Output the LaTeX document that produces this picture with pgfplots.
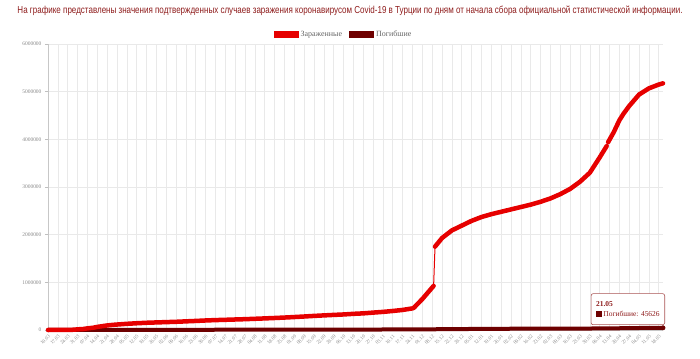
\documentclass[border=0pt]{standalone}
\usepackage{fontspec}
\setmainfont{Liberation Serif}
\newfontfamily\titlefont{Liberation Sans}
\usepackage{pgfplots}
\usepackage{pgfplotstable}
\pgfplotsset{compat=1.18}
\definecolor{cases}{HTML}{E60000}
\definecolor{deaths}{HTML}{6E0000}
\definecolor{titlered}{HTML}{8E1B1B}
\definecolor{gridc}{HTML}{E9E9E9}
\definecolor{tickc}{HTML}{8A8A8A}

\pgfplotstableread{
day cases
0 0
1 1
4 5
8 191
11 670
15 2433
18 5698
21 13531
25 20921
28 34109
32 47029
35 65111
39 82329
42 95591
46 107773
49 114653
56 129491
63 141475
70 151615
77 158762
84 165555
91 172114
98 181298
105 190165
112 199906
119 207897
126 214001
133 220572
140 227019
147 234934
154 243180
161 251805
168 261194
175 271705
182 283270
189 295512
196 306302
203 316560
210 326000
217 339000
224 349000
231 365000
238 380000
245 399000
252 421000
259 453535
260 467730
266 650000
274 925342
}\casesA

\pgfplotstableread{
day cases
275 1748567
280 1930000
287 2090000
294 2190000
301 2290000
308 2370000
315 2430000
322 2480000
329 2530000
336 2580000
343 2630000
350 2690000
357 2760000
364 2850000
371 2960000
378 3110000
385 3300000
392 3620000
397 3860000
}\casesB

\pgfplotstableread{
day cases
398 3940000
402 4150000
406 4400000
409 4540000
413 4700000
420 4940000
427 5070000
434 5150000
437 5175000
}\casesC

\pgfplotstableread{
day deaths
0 0
21 214
28 725
35 1403
42 2376
49 3081
56 3520
63 3894
70 4199
77 4397
84 4585
91 4746
98 4842
105 4974
112 5131
119 5260
126 5382
133 5508
140 5645
147 5784
154 5941
161 6058
168 6209
175 6417
182 6895
189 7249
196 7640
203 8325
210 8609
217 9013
224 9445
231 9874
238 10558
245 11145
252 11820
259 12511
266 13746
273 15103
280 16646
287 18351
294 19878
301 21488
308 22807
315 24161
322 25476
329 26354
336 26997
343 27983
350 28486
357 28900
364 29489
371 29777
378 30316
385 31230
392 32456
399 34184
406 36613
413 39398
420 41883
427 44059
434 45186
437 45626
}\deathsT

\begin{document}
\begin{tikzpicture}
\useasboundingbox (0,0) rectangle (700bp,359bp);
\node[anchor=center, text=titlered, inner sep=0] at (350bp,348bp)
 {\resizebox{665bp}{7.5bp}{\titlefont На графике представлены значения подтвержденных случаев заражения коронавирусом Covid-19 в Турции по дням от начала сбора официальной статистической информации.}};
\begin{axis}[
 at={(48bp,29bp)}, anchor=south west,
 scale only axis, width=615bp, height=286bp,
 xmin=0, xmax=437, ymin=0, ymax=6000000,
 clip=false,
 xtick={0,7,...,434},
 xticklabels={10.03,17.03,24.03,31.03,07.04,14.04,21.04,28.04,05.05,12.05,19.05,26.05,02.06,09.06,16.06,23.06,30.06,07.07,14.07,21.07,28.07,04.08,11.08,18.08,25.08,01.09,08.09,15.09,22.09,29.09,06.10,13.10,20.10,27.10,03.11,10.11,17.11,24.11,01.12,08.12,15.12,22.12,29.12,05.01,12.01,19.01,26.01,02.02,09.02,16.02,23.02,02.03,09.03,16.03,23.03,30.03,06.04,13.04,20.04,27.04,04.05,11.05,18.05},
 ytick={0,1000000,2000000,3000000,4000000,5000000,6000000},
 scaled y ticks=false,
 /pgf/number format/assume math mode=true,
 yticklabel style={/pgf/number format/fixed, /pgf/number format/1000 sep={}, font=\fontsize{5.5}{6}\selectfont, text=tickc},
 xticklabel style={rotate=45, anchor=north east, font=\fontsize{5}{6}\selectfont, text=tickc, inner sep=1bp},
 grid=major, major grid style={draw=gridc, line width=0.6bp},
 axis lines*=left,
 axis line style={draw=black!22, line width=0.6bp},
 tick align=outside, major tick length=3bp,
 x tick style={draw=none}, y tick style={draw=black!25, line width=0.6bp},
 legend style={at={(0.5,1)}, anchor=south, xshift=-12bp, yshift=4bp, draw=none, fill=none, inner sep=0pt,
   font=\fontsize{8}{9}\selectfont, text=black!60, legend columns=2,
   /tikz/every even column/.append style={column sep=5bp}},
 legend cell align=left,
 legend image code/.code={\fill[#1] (0bp,-3.5bp) rectangle (25bp,3.5bp);},
]
\addlegendimage{fill=cases, draw=none}
\addlegendentry{Зараженные}
\addlegendimage{fill=deaths, draw=none}
\addlegendentry{Погибшие}

\addplot[deaths, line width=4bp, line join=round, line cap=round, forget plot] table[x=day,y=deaths] {\deathsT};
\addplot[cases, line width=4.5bp, line join=round, line cap=round, forget plot] table[x=day,y=cases] {\casesA};
\addplot[cases, line width=1bp, forget plot] coordinates {(274,925342) (275,1748567)};
\addplot[cases, line width=4.5bp, line join=round, line cap=round, forget plot] table[x=day,y=cases] {\casesB};
\addplot[cases, line width=4.5bp, line join=round, line cap=round, forget plot] table[x=day,y=cases] {\casesC};
\addplot[deaths, only marks, mark=*, mark size=2.2bp, forget plot] coordinates {(437,45626)};

\node[draw=titlered!75, rounded corners=2bp, fill=white, line width=0.6bp, anchor=south east, align=left,
  font=\fontsize{7.5}{10}\selectfont, text=titlered, inner xsep=5bp, inner ysep=3.5bp,
  minimum width=73bp, minimum height=31bp] at (axis cs:437,0) [xshift=2bp, yshift=5bp]
  {\textbf{21.05}\\{\color{deaths}\rule{6bp}{6bp}}\,Погибшие: 45626};
\end{axis}
\end{tikzpicture}
\end{document}
